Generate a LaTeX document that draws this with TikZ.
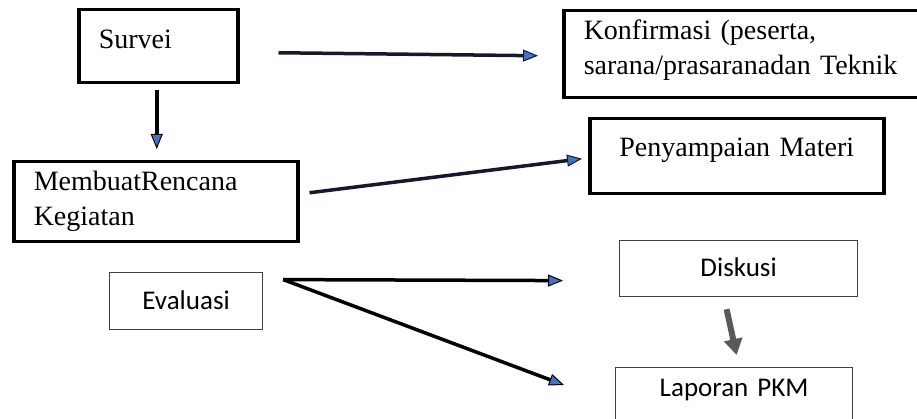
\documentclass[tikz,border=0pt]{standalone}
\usepackage{fontspec}
\setmainfont{Liberation Serif}
\newfontfamily\calibrifont{Carlito}
\usepackage{tikz}
\usetikzlibrary{arrows.meta,calc,positioning}
\definecolor{headblue}{HTML}{4472C4}
\definecolor{darkline}{HTML}{141A2B}
\definecolor{arrgray}{HTML}{5A5A5A}

\begin{document}
\begin{tikzpicture}[x=1pt,y=-1pt,
		thickbox/.style={draw=black,line width=3.5pt,rectangle,inner ysep=0pt,inner xsep=20pt,align=left,font=\fontsize{28}{35}\selectfont},
		thinbox/.style={draw=black!75,line width=1.2pt,rectangle,inner sep=0pt,align=center,font=\calibrifont\fontsize{27}{32}\selectfont},
		flow/.style={line width=3.5pt,-{Triangle[length=15pt,width=12pt,line width=1pt,fill=headblue]}},
		grayflow/.style={draw=arrgray,line width=6pt,-{Triangle[length=16pt,width=18pt,fill=arrgray]}}]
    \clip (0,0) rectangle (917,419);

    \node[thickbox,anchor=north west,text width=119pt,text height=39pt,text depth=34pt] (survei) at (77,8) {Survei};
    \node[thickbox,anchor=north west,text width=318pt,text height=29pt,text depth=58pt] (konf) at (562,9) {Konfirmasi (peserta,\\sarana/prasaranadan Teknik};
    \node[thickbox,anchor=north west,text width=244pt,text height=29pt,text depth=51pt] (rencana) at (12,160) {MembuatRencana\\Kegiatan};
    \node[thickbox,anchor=north west,inner xsep=0pt,align=center,text width=294pt,text height=38pt,text depth=37pt] (materi) at (588,117) {Penyampaian Materi};

    \node[thinbox,anchor=north west,text width=153pt,text height=37pt,text depth=20pt] (evaluasi) at (109,272) {Evaluasi};
    \node[thinbox,anchor=north west,text width=238pt,text height=36pt,text depth=20pt] (diskusi) at (619,240) {Diskusi};
    \node[thinbox,anchor=north west,text width=237pt,text height=29pt,text depth=50pt] (laporan) at (615,367) {Laporan PKM};

    \draw[flow,darkline] ($(survei.east)+(39,6.5)$) -- ($(konf.west)+(-24,1.5)$);
    \draw[flow,black] ($(survei.south)+(-1.5,6)$) -- ($(rencana.north)+(1,-11)$);
    \draw[flow,darkline] ($(rencana.east)+(10,-9)$) -- ($(materi.west)+(-6,2.5)$);
    \coordinate (evalout) at ($(evaluasi.east)+(20,-21.5)$);
    \draw[flow,black] (evalout) -- ($(diskusi.west)+(-56,12)$);
    \draw[flow,black] (evalout) -- ($(laporan.north west)+(-51,18)$);
    \draw[grayflow] ($(diskusi.south)+(-12,12)$) -- ($(laporan.north)+(2.5,-12)$);
\end{tikzpicture}
\end{document}
